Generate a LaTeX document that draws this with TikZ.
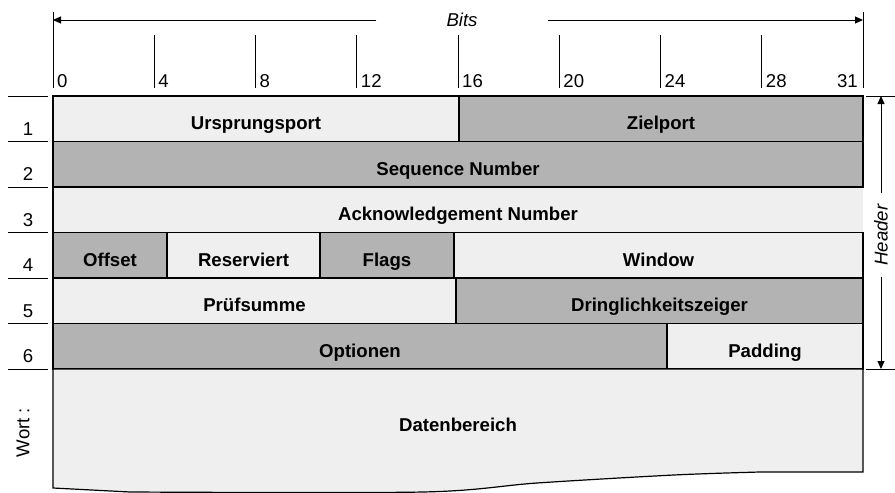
\documentclass[tikz,border=0pt]{standalone}
\usepackage{fontspec}
\setmainfont{Liberation Sans}
\usepackage{tikz}
\usetikzlibrary{arrows.meta}
\newcommand\figfont{\fontsize{18.6pt}{22pt}\selectfont}
\definecolor{cellLight}{HTML}{EFEFEF}
\definecolor{cellDark}{HTML}{B3B3B3}
\tikzset{
  >={Triangle[length=8pt,width=7pt]},
  cell/.style={draw, line width=1.2pt, inner sep=0pt, outer sep=0pt, anchor=north west,
               minimum width=#1, minimum height=45.5pt, text height=21.6pt, text depth=0pt,
               font=\figfont\bfseries},
  lightcell/.style={cell=#1, fill=cellLight},
  darkcell/.style={cell=#1, fill=cellDark},
  tick/.style={line width=1pt},
  num/.style={inner sep=0pt, font=\figfont},
  tag/.style={inner sep=0pt, font=\figfont\itshape},
  dim/.style={->, line width=1pt}
}

\begin{document}
\begin{tikzpicture}[x=1pt, y=-1pt, font=\figfont]
\useasboundingbox (0,0) rectangle (895,493);
% bit ruler
\draw[tick] (53,12) -- (53,88);
\draw[tick] (863,12) -- (863,88);
\foreach \k in {1,...,7}
  \draw[tick] (53+101.25*\k,35) -- (53+101.25*\k,88);
\foreach \b [count=\k from 0] in {0,4,...,28}
  \node[num, anchor=base west] (bit\b) at (57+101.25*\k,87.5) {\b};
\node[num, anchor=base east] (bit31) at (858,87.5) {31};
\node[tag, inner xsep=70pt] (bits) at (462,20) {Bits};
\coordinate (bitsL) at (53,20);
\coordinate (bitsR) at (863,20);
\draw[dim] (bits.west) -- (bitsL);
\draw[dim] (bits.east) -- (bitsR);
% word numbers
\foreach \r in {0,...,6}
  \draw[tick] (8,96+45.5*\r) -- (48,96+45.5*\r);
\foreach \r in {1,...,6}
  \node[num, anchor=base] (word\r) at (28,89.5+45.5*\r) {\r};
\node[num, rotate=90] (wort) at (23,432.5) {Wort :};
% header fields
\node[lightcell=810pt, draw=none] (ack) at (53,187) {Acknowledgement Number};
\draw[line width=1.2pt] (ack.north west) -- (ack.south west);
\node[lightcell=406pt] (ursprung) at (53,96) {Ursprungsport};
\node[darkcell=404pt] (ziel) at (459,96) {Zielport};
\node[darkcell=810pt] (seq) at (53,141.5) {Sequence Number};
\node[darkcell=114pt] (offset) at (53,232.5) {Offset};
\node[lightcell=153pt] (reserv) at (167,232.5) {Reserviert};
\node[darkcell=134pt] (flags) at (320,232.5) {Flags};
\node[lightcell=409pt] (window) at (454,232.5) {Window};
\node[lightcell=403pt] (pruef) at (53,278) {Prüfsumme};
\node[darkcell=407pt] (dringl) at (456,278) {Dringlichkeitszeiger};
\node[darkcell=614pt] (optionen) at (53,323.5) {Optionen};
\node[lightcell=196pt] (padding) at (667,323.5) {Padding};
% data area
\draw[line width=1.2pt, fill=cellLight] (53,369) -- (863,369) -- (863,472)
  -- plot[smooth, tension=0.5] coordinates {(760,472) (674,475) (537,483) (423,492) (130,492)}
  -- (53,488) -- cycle;
\node[num, anchor=base, font=\figfont\bfseries] (daten) at (458,431.7) {Datenbereich};
% header span
\draw[tick] (866,96) -- (895,96);
\draw[tick] (866,369) -- (895,369);
\node[tag, rotate=90, inner xsep=11pt] (hdr) at (881,235) {Header};
\coordinate (hdrTop) at (881,96);
\coordinate (hdrBot) at (881,369);
\draw[dim] (hdr.east) -- (hdrTop);
\draw[dim] (hdr.west) -- (hdrBot);
\end{tikzpicture}
\end{document}
